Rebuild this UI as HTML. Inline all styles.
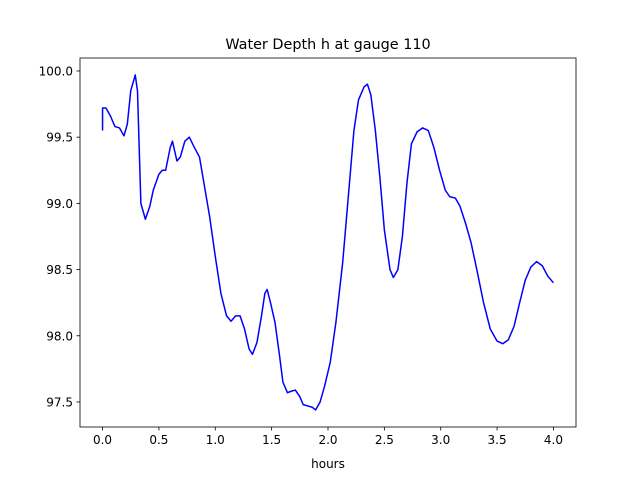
<!DOCTYPE html>
<html>
<head>
<meta charset="utf-8">
<style>
html,body{margin:0;padding:0;background:#fff;}
svg text{font-family:"DejaVu Sans","Liberation Sans",sans-serif;fill:#000;}
</style>
</head>
<body>
<svg id="chart" width="640" height="480" xmlns="http://www.w3.org/2000/svg">
<rect x="0" y="0" width="640" height="480" fill="#fff"/>
<text x="328" y="49" font-size="14.4" text-anchor="middle">Water Depth h at gauge 110</text>
<g id="xticks"></g>
<g id="yticks"></g>
<polyline id="series" fill="none" stroke="#0000ff" stroke-width="1.5" stroke-linejoin="round"/>
<rect x="80" y="58" width="496" height="369" fill="none" stroke="#000" stroke-width="0.8"/>
<text x="328" y="468" font-size="12" text-anchor="middle">hours</text>
</svg>
<script>
const times=[0,0,0.03,0.07,0.11,0.15,0.19,0.22,0.25,0.29,0.31,0.34,0.38,0.42,0.45,0.5,0.53,0.56,0.6,0.62,0.66,0.69,0.73,0.77,0.81,0.86,0.9,0.95,1.0,1.05,1.1,1.14,1.18,1.22,1.26,1.3,1.33,1.37,1.41,1.44,1.46,1.49,1.53,1.57,1.6,1.64,1.67,1.71,1.75,1.78,1.82,1.86,1.89,1.93,1.97,2.02,2.07,2.13,2.18,2.23,2.27,2.32,2.35,2.38,2.42,2.46,2.5,2.55,2.58,2.62,2.66,2.7,2.74,2.79,2.84,2.89,2.94,2.99,3.04,3.08,3.13,3.17,3.22,3.27,3.32,3.38,3.44,3.5,3.55,3.6,3.65,3.7,3.75,3.8,3.85,3.9,3.95,4.0];
const depths=[99.55,99.72,99.72,99.66,99.58,99.57,99.51,99.6,99.85,99.97,99.85,99.0,98.88,98.98,99.1,99.22,99.25,99.25,99.42,99.47,99.32,99.35,99.47,99.5,99.43,99.35,99.15,98.9,98.6,98.32,98.15,98.11,98.15,98.15,98.05,97.9,97.86,97.95,98.15,98.32,98.35,98.25,98.1,97.85,97.65,97.57,97.58,97.59,97.54,97.48,97.47,97.46,97.44,97.5,97.62,97.8,98.1,98.55,99.05,99.55,99.78,99.88,99.9,99.82,99.55,99.2,98.8,98.5,98.44,98.5,98.75,99.15,99.45,99.54,99.57,99.55,99.42,99.25,99.1,99.05,99.04,98.98,98.85,98.7,98.5,98.25,98.05,97.96,97.94,97.97,98.07,98.25,98.42,98.52,98.56,98.53,98.45,98.4];
const xTickVals=[0,0.5,1,1.5,2,2.5,3,3.5,4];
const xTickLabels=["0.0","0.5","1.0","1.5","2.0","2.5","3.0","3.5","4.0"];
const yTickVals=[97.5,98,98.5,99,99.5,100];
const yTickLabels=["97.5","98.0","98.5","99.0","99.5","100.0"];

const X0=80,X1=576,Y0=58,Y1=427;
const xmin=-0.2,xmax=4.2,ymin=97.311,ymax=100.098;
function xs(v){return X0+(v-xmin)/(xmax-xmin)*(X1-X0);}
function ys(v){return Y1-(v-ymin)/(ymax-ymin)*(Y1-Y0);}
const NS="http://www.w3.org/2000/svg";
const xg=document.getElementById('xticks'),yg=document.getElementById('yticks');
xTickVals.forEach((v,i)=>{
  const x=xs(v);
  const l=document.createElementNS(NS,'line');
  l.setAttribute('x1',x);l.setAttribute('x2',x);l.setAttribute('y1',Y1);l.setAttribute('y2',Y1+3.5);
  l.setAttribute('stroke','#000');l.setAttribute('stroke-width','0.8');
  
  
  xg.appendChild(l);
  const t=document.createElementNS(NS,'text');
  t.setAttribute('x',x);t.setAttribute('y',Y1+17);t.setAttribute('font-size','12');t.setAttribute('text-anchor','middle');
  t.textContent=xTickLabels[i];
  
  
  xg.appendChild(t);
});
yTickVals.forEach((v,i)=>{
  const y=ys(v);
  const l=document.createElementNS(NS,'line');
  l.setAttribute('x1',X0-3.5);l.setAttribute('x2',X0);l.setAttribute('y1',y);l.setAttribute('y2',y);
  l.setAttribute('stroke','#000');l.setAttribute('stroke-width','0.8');
  
  
  yg.appendChild(l);
  const t=document.createElementNS(NS,'text');
  t.setAttribute('x',X0-7);t.setAttribute('y',y+4.5);t.setAttribute('font-size','12');t.setAttribute('text-anchor','end');
  t.textContent=yTickLabels[i];
  
  
  yg.appendChild(t);
});
document.getElementById('series').setAttribute('points',times.map((t,i)=>xs(t).toFixed(2)+','+ys(depths[i]).toFixed(2)).join(' '));
</script>
</body>
</html>
